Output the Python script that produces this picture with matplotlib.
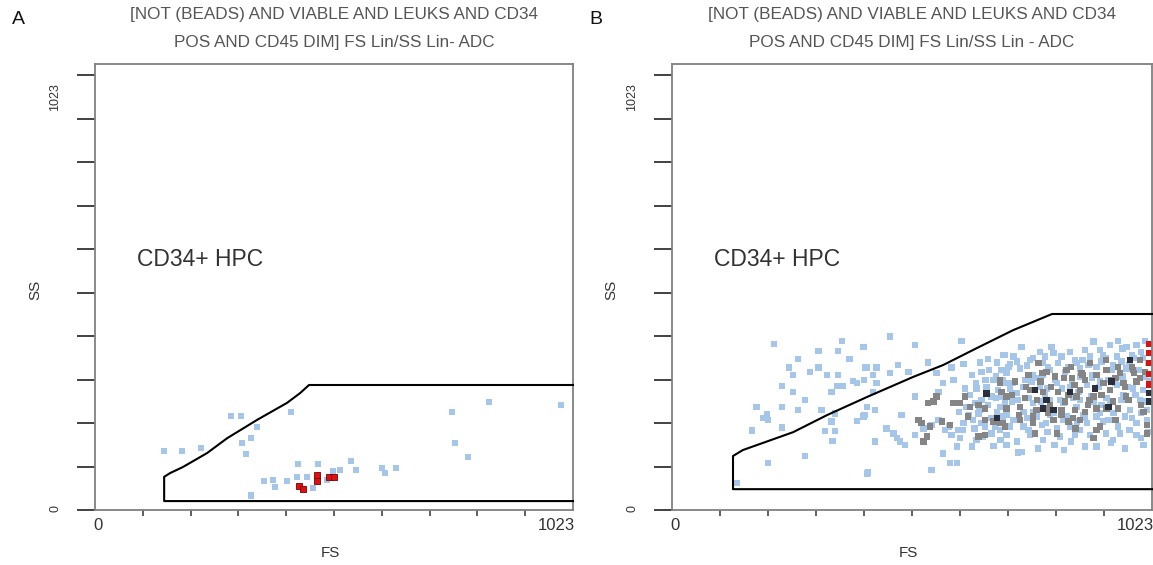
#!/usr/bin/env python3
"""Two FS/SS dot plots of CD34+ HPC gates (panels A and B)."""

import matplotlib
matplotlib.use("Agg")
import matplotlib.pyplot as plt

W, H = 1153, 565

TITLE_A = ["[NOT (BEADS) AND VIABLE AND LEUKS AND CD34",
           "POS AND CD45 DIM] FS Lin/SS Lin- ADC"]
TITLE_B = ["[NOT (BEADS) AND VIABLE AND LEUKS AND CD34",
           "POS AND CD45 DIM] FS Lin/SS Lin - ADC"]
GATE_LABEL = "CD34+ HPC"

# gate outlines (FS, SS)
GATE_A_FS = [1023, 148, 148, 161, 188, 240, 283, 347, 411, 439, 458, 1023]
GATE_A_SS = [21, 21, 78, 87, 101, 134, 169, 212, 252, 275, 294, 294]
GATE_B_FS = [1023, 130, 130, 151, 258, 330, 416, 514, 578, 650, 727, 810, 1023]
GATE_B_SS = [49, 49, 127, 141, 183, 223, 266, 313, 341, 381, 423, 461, 461]

# panel A events
A_BLUE_FS = [148, 186, 227, 291, 312, 419, 347, 315, 334, 323, 764, 843, 997, 770, 798,
             548, 559, 614, 621, 644, 434, 477, 509, 524, 362, 381, 385, 411, 432, 454,
             467, 334, 496]
A_BLUE_SS = [139, 139, 146, 221, 221, 230, 195, 158, 169, 132, 230, 254, 247, 158, 125,
             115, 94, 99, 87, 99, 108, 108, 92, 94, 68, 71, 54, 68, 78, 78,
             52, 34, 71]
A_RED_FS = [475, 475, 500, 512, 437, 445]
A_RED_SS = [82, 68, 78, 78, 56, 49]

# panel B events
B_BLUE_FS = [218, 362, 408, 312, 354, 268, 378, 249, 312, 411, 258, 294, 330, 354, 234,
             258, 340, 351, 365, 386, 394, 283, 180, 234, 269, 319, 202, 195, 204, 347,
             410, 394, 340, 170, 234, 326, 347, 342, 283, 204, 138, 415,
             465, 518, 617, 408, 415, 436, 465, 504, 482, 546, 564, 596, 621, 656, 674,
             692, 706, 717, 409, 429, 436, 429, 518, 489, 415, 433, 408, 568, 578, 600,
             457, 472, 479, 486, 496, 433, 518, 536, 553, 568, 582, 596, 610, 621, 642,
             653, 614, 607, 639, 649, 685, 578, 592, 607, 553, 418, 628, 646, 660, 674,
             635, 649, 670, 685, 702, 713, 681, 692, 706, 667, 681, 699, 713, 663,
             745, 784, 809, 813, 848, 880, 898, 912, 933, 951, 969, 990, 1008, 710, 735,
             763, 791, 823, 859, 891, 919, 948, 980, 1004, 713, 742, 770, 806, 838, 870,
             905, 937, 969, 994, 720, 749, 784, 820, 848, 884, 912, 948, 983, 1004, 710,
             738, 770, 806, 834, 870, 898, 926, 962, 997, 713, 749, 777, 813, 841, 877,
             905, 941, 976, 720, 749, 788, 820, 848, 884, 919, 951, 990, 713, 738, 763,
             791, 827, 859, 891, 905, 955, 990, 1012, 1012,
             720, 728, 756, 770, 795, 802, 830, 845, 862, 875, 888, 895, 915, 925, 940,
             958, 975, 985, 1000, 1015, 705, 727, 752, 766, 780, 799, 816, 831, 852, 866,
             895, 910, 930, 944, 960, 972, 1008, 1018, 703, 724, 735, 760, 786, 795, 827,
             855, 862, 893, 915, 934, 958, 988, 1010, 728, 756, 770, 797, 805, 834, 863,
             880, 912, 930, 966, 980, 1000, 640, 660, 676, 690, 625, 648, 668, 695, 612,
             633, 655, 680, 700, 590, 620, 645, 660, 688,
             700, 735, 760, 800, 815, 850, 870, 925, 940, 975, 1000, 1015, 745, 780, 835,
             880, 935, 965, 1005, 690, 725, 790, 870, 960]
B_BLUE_SS = [390, 398, 383, 374, 374, 355, 355, 335, 335, 335, 318, 324, 318, 318, 292,
             277, 278, 292, 292, 303, 298, 259, 243, 243, 235, 235, 226, 216, 212, 227,
             223, 209, 208, 187, 194, 186, 186, 162, 127, 110, 63, 86,
             408, 388, 398, 383, 335, 335, 322, 324, 341, 347, 322, 335, 343, 347, 355,
             347, 365, 337, 306, 318, 298, 278, 267, 224, 243, 235, 220, 278, 298, 306,
             192, 180, 169, 161, 153, 161, 177, 192, 200, 212, 188, 177, 188, 204, 212,
             227, 169, 149, 149, 165, 151, 133, 110, 110, 94, 88, 243, 251, 259, 247,
             271, 286, 290, 306, 329, 298, 267, 231, 220, 196, 180, 188, 177, 173,
             384, 372, 384, 369, 372, 376, 396, 376, 388, 398, 384, 388, 398, 365, 349,
             353, 345, 345, 353, 361, 365, 361, 365, 357, 322, 333, 318, 329, 325, 333,
             337, 329, 333, 329, 286, 290, 290, 298, 290, 294, 302, 294, 286, 282, 255,
             259, 251, 259, 251, 259, 255, 263, 271, 259, 224, 231, 220, 228, 220, 224,
             220, 228, 235, 196, 196, 200, 192, 196, 204, 208, 196, 204, 153, 135, 177,
             165, 173, 177, 177, 149, 180, 177, 235, 212,
             343, 361, 340, 357, 361, 337, 361, 337, 345, 353, 341, 318, 349, 357, 341,
             349, 341, 357, 372, 345, 306, 298, 306, 302, 310, 286, 306, 286, 302, 278,
             310, 290, 306, 298, 314, 290, 314, 302, 267, 255, 275, 263, 255, 271, 259,
             263, 243, 267, 247, 255, 259, 271, 255, 212, 216, 231, 204, 224, 212, 208,
             216, 228, 212, 220, 216, 228, 318, 325, 329, 314, 286, 298, 306, 282, 231,
             224, 235, 216, 243, 196, 188, 192, 204, 196,
             165, 161, 188, 184, 153, 161, 188, 180, 165, 188, 169, 184, 137, 145, 141,
             149, 157, 145, 153, 263, 275, 318, 314, 380]
B_GRAY_FS = [546, 557, 564, 525, 532, 543, 536, 550, 575, 592, 600, 614, 624, 635, 653,
             667, 667, 685, 699, 710, 702, 713, 699, 653, 667, 631,
             781, 798, 816, 841, 852, 873, 891, 926, 937, 955, 980, 997, 997, 699, 731,
             763, 791, 823, 845, 870, 898, 933, 962, 973, 742, 777, 802, 830, 859, 887,
             926, 951, 713, 706, 742, 770, 813, 845, 870, 912, 774, 820, 898, 983,
             760, 785, 808, 835, 858, 880, 905, 920, 945, 965, 990, 1008, 752, 778, 806,
             838, 862, 890, 915, 940, 968, 1000, 740, 770, 800, 830, 855, 880, 905, 945,
             1005, 725, 755, 790, 850, 875, 925, 950, 985, 1012, 1012, 860, 905]
B_GRAY_SS = [251, 255, 267, 212, 204, 173, 161, 196, 208, 200, 251, 251, 267, 243, 247,
             239, 212, 208, 204, 196, 278, 267, 298, 173, 177, 220,
             345, 325, 314, 329, 310, 322, 345, 329, 306, 322, 337, 353, 310, 306, 302,
             282, 278, 278, 271, 282, 267, 282, 298, 259, 243, 235, 228, 235, 235, 247,
             239, 239, 239, 204, 212, 204, 212, 208, 212, 196, 180, 180, 169, 329,
             318, 302, 290, 310, 294, 306, 318, 298, 310, 290, 302, 325, 263, 259, 247,
             255, 267, 259, 271, 255, 267, 247, 224, 220, 239, 224, 216, 231, 239, 212,
             231, 271, 290, 322, 337, 318, 353, 337, 322, 200, 180, 192, 188]
B_DARK_FS = [670, 692, 774, 798, 791, 813, 848, 901, 930, 976, 937, 1018, 1018]
B_DARK_SS = [274, 216, 282, 259, 239, 235, 278, 286, 243, 353, 302, 255, 275]
B_RED_FS = [1018, 1018, 1018, 1018, 1018]
B_RED_SS = [295, 320, 345, 370, 390]

BLUE = "#a6c6e9"
GRAY = "#858585"
DARK = "#2b2f3a"
RED = "#dd1111"
TXT = "#333333"
TITLE_COL = "#555555"

plt.rcParams["font.family"] = ["Liberation Sans", "DejaVu Sans"]


def fx(px):
    return px / W


def fy(py):
    return 1 - py / H


def dot_plot(fig, left_px, right_px, title, gate_fs, gate_ss, layers, letter, ss_x):
    top_px, bot_px = 64, 510
    ax = fig.add_axes([fx(left_px), fy(bot_px), (right_px - left_px) / W, (bot_px - top_px) / H])
    ax.set_xlim(0, 1023)
    ax.set_ylim(0, 1049)
    for sp in ax.spines.values():
        sp.set_color("#808080")
        sp.set_linewidth(1.3)

    ax.set_xticks([102.3 * k for k in range(1, 10)])
    ax.set_yticks([102.3 * k for k in range(11)])
    ax.set_xticklabels([])
    ax.set_yticklabels([])
    ax.tick_params(axis="x", direction="out", length=4.5, width=1.2, color="#444444")
    ax.tick_params(axis="y", direction="out", length=13, width=1.3, color="#333333")

    for fs, ss, col, edge in layers:
        ax.scatter(fs, ss, marker="s", s=21, c=col, linewidths=0.6 if edge else 0,
                   edgecolors=edge if edge else "none", zorder=2, clip_on=True)

    ax.plot(gate_fs, gate_ss, color="black", lw=1.5, zorder=3, clip_on=False)

    cx = (left_px + right_px) / 2
    fig.text(fx(cx), fy(15), title[0], ha="center", va="center", fontsize=12.3, color=TITLE_COL)
    fig.text(fx(cx), fy(42), title[1], ha="center", va="center", fontsize=12.3, color=TITLE_COL)
    fig.text(fx(left_px - 83), fy(20), letter, ha="left", va="center", fontsize=14, color="#111111")
    fig.text(fx(left_px + 42), fy(259), GATE_LABEL, ha="left", va="center", fontsize=16.5, color=TXT)

    fig.text(fx(left_px + 3), fy(525), "0", ha="center", va="center", fontsize=12, color=TXT)
    fig.text(fx(right_px + 2), fy(525), "1023", ha="right", va="center", fontsize=12, color=TXT)
    fig.text(fx(left_px - 40), fy(97), "1023", ha="center", va="center", rotation=90,
             fontsize=9, color=TXT)
    fig.text(fx(left_px - 40), fy(508), "0", ha="center", va="center", rotation=90,
             fontsize=9, color=TXT)
    fig.text(fx(cx - 4), fy(553), "FS", ha="center", va="center", fontsize=11, color=TXT)
    fig.text(fx(ss_x), fy(290), "SS", ha="center", va="center", rotation=90, fontsize=11, color=TXT)
    return ax


def main():
    fig = plt.figure(figsize=(W / 100, H / 100), dpi=100)
    fig.patch.set_facecolor("white")

    dot_plot(fig, 95, 573, TITLE_A, GATE_A_FS, GATE_A_SS,
             [(A_BLUE_FS, A_BLUE_SS, BLUE, None),
              (A_RED_FS, A_RED_SS, RED, "#7a0000")],
             "A", 35)
    dot_plot(fig, 672, 1152, TITLE_B, GATE_B_FS, GATE_B_SS,
             [(B_BLUE_FS, B_BLUE_SS, BLUE, None),
              (B_GRAY_FS, B_GRAY_SS, GRAY, None),
              (B_DARK_FS, B_DARK_SS, DARK, None),
              (B_RED_FS, B_RED_SS, RED, None)],
             "B", 611)

    fig.savefig("out.png", dpi=100)


if __name__ == "__main__":
    main()
